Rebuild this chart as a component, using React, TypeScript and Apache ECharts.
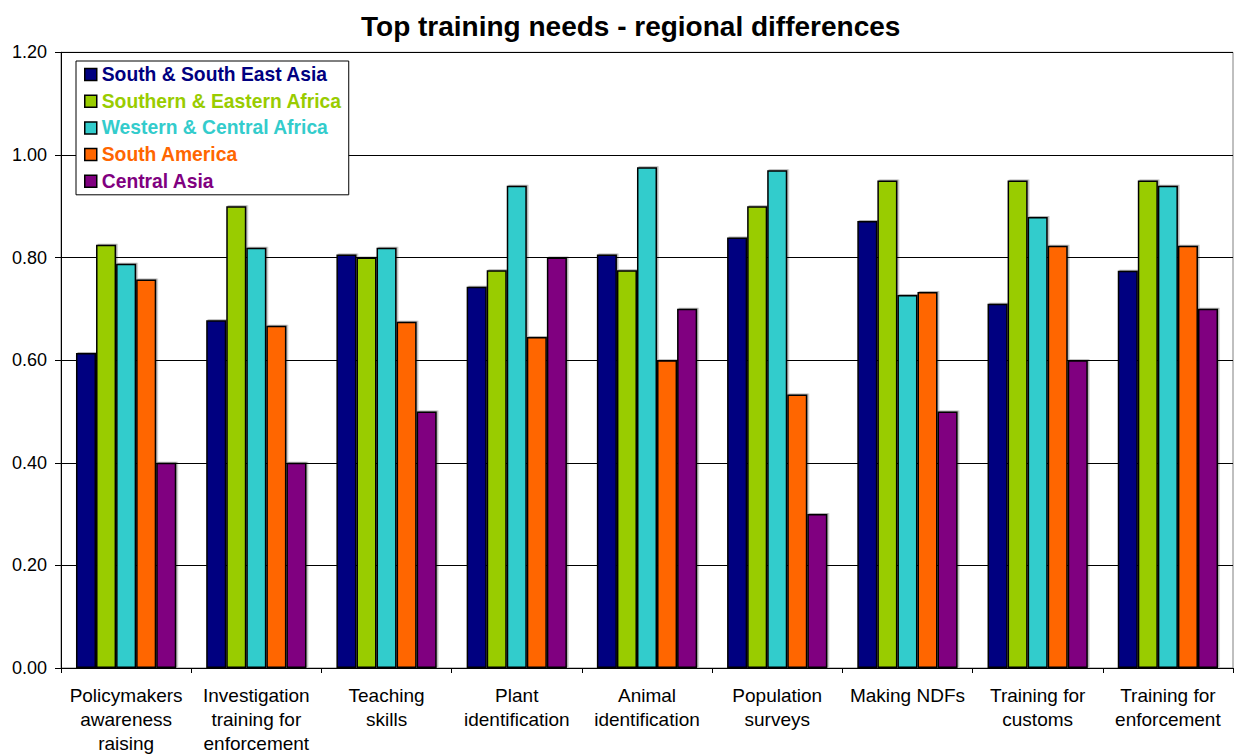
import React, { useEffect, useRef } from "react";
import * as echarts from "echarts";

const categories = [
  "Policymakers\nawareness\nraising",
  "Investigation\ntraining for\nenforcement",
  "Teaching\nskills",
  "Plant\nidentification",
  "Animal\nidentification",
  "Population\nsurveys",
  "Making NDFs",
  "Training for\ncustoms",
  "Training for\nenforcement",
];

const seriesNames = [
  "South & South East Asia",
  "Southern & Eastern Africa",
  "Western & Central Africa",
  "South America",
  "Central Asia",
];

const seriesColors = ["#000080", "#99CC00", "#33CCCC", "#FF6600", "#800080"];

const southSouthEastAsia = [0.614, 0.678, 0.806, 0.743, 0.806, 0.839, 0.871, 0.71, 0.774];
const southernEasternAfrica = [0.825, 0.9, 0.8, 0.775, 0.775, 0.9, 0.95, 0.95, 0.95];
const westernCentralAfrica = [0.788, 0.819, 0.819, 0.94, 0.976, 0.97, 0.727, 0.879, 0.94];
const southAmerica = [0.757, 0.667, 0.675, 0.645, 0.6, 0.533, 0.733, 0.823, 0.823];
const centralAsia = [0.4, 0.4, 0.5, 0.8, 0.7, 0.3, 0.5, 0.6, 0.7];

const seriesValues = [
  southSouthEastAsia,
  southernEasternAfrica,
  westernCentralAfrica,
  southAmerica,
  centralAsia,
];

const FONT = "'Liberation Sans', Arial, sans-serif";

export default function App() {
  const ref = useRef<HTMLDivElement>(null);

  useEffect(() => {
    if (!ref.current) return;
    const chart = echarts.init(ref.current, null, { renderer: "svg" });
    chart.setOption({
      animation: false,
      backgroundColor: "#ffffff",
      textStyle: { fontFamily: FONT },
      title: {
        text: "Top training needs - regional differences",
        left: 361,
        top: 12,
        padding: 0,
        textStyle: {
          fontFamily: FONT,
          fontSize: 28,
          fontWeight: "bold",
          color: "#000",
        },
      },
      legend: {
        orient: "vertical",
        left: 76,
        top: 61,
        padding: [4, 7, 4, 8],
        itemGap: 7.7,
        itemWidth: 12,
        itemHeight: 12,
        icon: "rect",
        borderColor: "#000",
        borderWidth: 1,
        backgroundColor: "#fff",
        itemStyle: { borderColor: "#000", borderWidth: 1.5 },
        data: seriesNames.map((n, i) => ({
          name: n,
          textStyle: {
            color: seriesColors[i],
            fontFamily: FONT,
            fontSize: 19.3,
            fontWeight: "bold",
            lineHeight: 19,
          },
        })),
      },
      grid: {
        left: 61,
        right: 6,
        top: 52.3,
        bottom: 84,
        show: true,
        borderColor: "#808080",
        borderWidth: 1,
        containLabel: false,
      },
      xAxis: {
        type: "category",
        data: categories,
        axisLine: { lineStyle: { color: "#000", width: 1 } },
        axisTick: { show: true, length: 5, lineStyle: { color: "#000" } },
        axisLabel: {
          interval: 0,
          margin: 15,
          color: "#000",
          fontFamily: FONT,
          fontSize: 19,
          lineHeight: 24,
        },
      },
      yAxis: {
        type: "value",
        min: 0,
        max: 1.2,
        interval: 0.2,
        axisLine: { show: true, lineStyle: { color: "#000", width: 1 } },
        axisTick: { show: true, length: 6, lineStyle: { color: "#000" } },
        splitLine: { show: true, lineStyle: { color: "#000", width: 1 } },
        axisLabel: {
          margin: 14,
          color: "#000",
          fontFamily: FONT,
          fontSize: 18,
          formatter: (v: number) => v.toFixed(2),
        },
      },
      series: seriesNames.map((n, i) => ({
        name: n,
        type: "bar",
        data: seriesValues[i],
        barGap: "0%",
        barCategoryGap: "23%",
        itemStyle: {
          color: seriesColors[i],
          borderColor: "#000",
          borderWidth: 1.5,
          shadowColor: "rgba(0,0,0,0.3)",
          shadowBlur: 0,
          shadowOffsetX: 1.5,
          shadowOffsetY: -1,
        },
      })),
    });
    return () => chart.dispose();
  }, []);

  return (
    <div
      ref={ref}
      style={{ position: "fixed", left: 0, top: 0, width: 1239, height: 755 }}
    />
  );
}
